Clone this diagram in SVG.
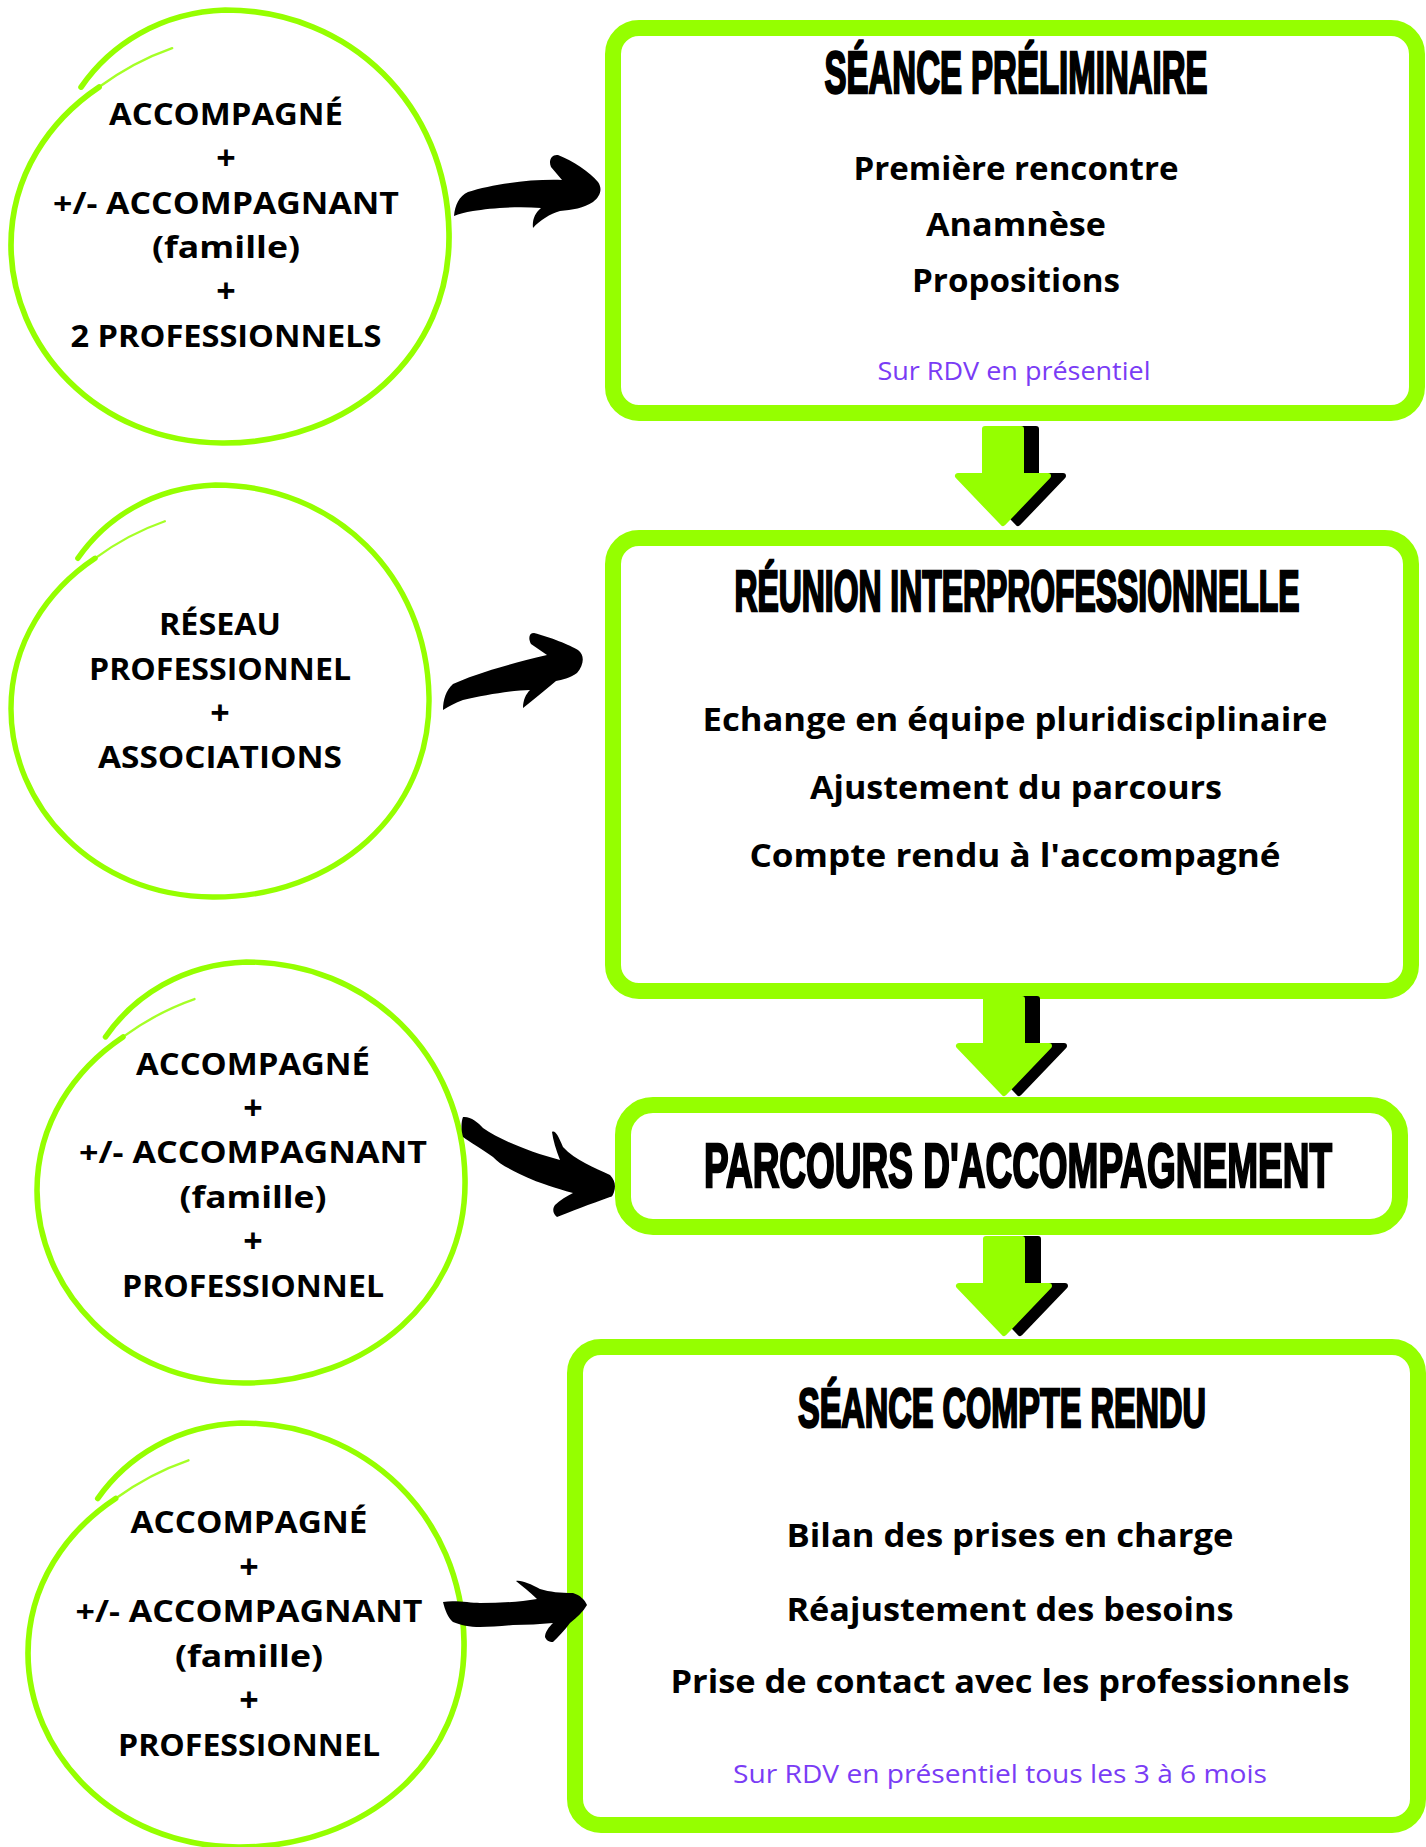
<svg xmlns="http://www.w3.org/2000/svg" xmlns:xlink="http://www.w3.org/1999/xlink" width="1426" height="1847" viewBox="0 0 1426 1847">
<style>
.box{fill:#fff;stroke:#95ff00;stroke-width:16}
.ring{fill:none;stroke:#95ff00;stroke-width:13;stroke-linecap:round}
.ringtail{fill:none;stroke:#95ff00;stroke-width:5.5;stroke-linecap:round;opacity:.85}
.ct{font-family:"Open Sans","Liberation Sans",sans-serif;font-weight:700;font-size:30px;fill:#000;text-anchor:middle}
.plus{font-size:34px}
.title{font-family:"Liberation Sans",Arial,sans-serif;font-weight:700;fill:#000;stroke:#000;stroke-width:2.5;text-anchor:middle}
.bt{font-family:"Open Sans","Liberation Sans",sans-serif;font-weight:700;font-size:32px;fill:#000;text-anchor:middle}
.note{font-family:"Open Sans","Liberation Sans",sans-serif;font-weight:400;font-size:25px;fill:#7a3cf5;text-anchor:middle}
.garrow{fill:#95ff00;stroke:#95ff00;stroke-width:6;stroke-linejoin:round}
.sarrow{fill:#000;stroke:#000;stroke-width:6;stroke-linejoin:round}
.barrow{fill:#000}
</style>
<defs>
<path id="ringpath" d="M160,178 C226,81 340,5 489,0 C774,0 995,219 1000,515 C1005,797 774,1002 482,1000 C192,998 0,774 0,543 C0,381 89,254 201,178"/>
<path id="tailpath" d="M201,178 C260,134 317,106 368,88"/>
<polygon id="down" points="-18,3 18,3 18,50 45,50 0,97 -45,50 -18,50"/>
</defs>
<rect width="1426" height="1847" fill="#fff"/>

<g id="circle-1">
<g transform="translate(11,10) scale(0.438,0.433)"><use href="#ringpath" class="ring"/><use href="#tailpath" class="ringtail"/></g>
<text class="ct" x="226" y="125" textLength="234" lengthAdjust="spacingAndGlyphs">ACCOMPAGNÉ</text>
<text class="ct plus" x="226" y="170">+</text>
<text class="ct" x="226" y="214" textLength="346" lengthAdjust="spacingAndGlyphs">+/- ACCOMPAGNANT</text>
<text class="ct" x="226" y="258" textLength="148" lengthAdjust="spacingAndGlyphs">(famille)</text>
<text class="ct plus" x="226" y="303">+</text>
<text class="ct" x="226" y="347" textLength="311" lengthAdjust="spacingAndGlyphs">2 PROFESSIONNELS</text>
</g>

<g id="circle-2">
<g transform="translate(11,485) scale(0.418,0.412)"><use href="#ringpath" class="ring"/><use href="#tailpath" class="ringtail"/></g>
<text class="ct" x="220" y="635" textLength="122" lengthAdjust="spacingAndGlyphs">RÉSEAU</text>
<text class="ct" x="220" y="680" textLength="262" lengthAdjust="spacingAndGlyphs">PROFESSIONNEL</text>
<text class="ct plus" x="220" y="725">+</text>
<text class="ct" x="220" y="768" textLength="244" lengthAdjust="spacingAndGlyphs">ASSOCIATIONS</text>
</g>

<g id="circle-3">
<g transform="translate(37,962) scale(0.428,0.421)"><use href="#ringpath" class="ring"/><use href="#tailpath" class="ringtail"/></g>
<text class="ct" x="253" y="1075" textLength="234" lengthAdjust="spacingAndGlyphs">ACCOMPAGNÉ</text>
<text class="ct plus" x="253" y="1120">+</text>
<text class="ct" x="253" y="1163" textLength="348" lengthAdjust="spacingAndGlyphs">+/- ACCOMPAGNANT</text>
<text class="ct" x="253" y="1208" textLength="147" lengthAdjust="spacingAndGlyphs">(famille)</text>
<text class="ct plus" x="253" y="1253">+</text>
<text class="ct" x="253" y="1297" textLength="262" lengthAdjust="spacingAndGlyphs">PROFESSIONNEL</text>
</g>

<g id="circle-4">
<g transform="translate(28,1423) scale(0.436,0.424)"><use href="#ringpath" class="ring"/><use href="#tailpath" class="ringtail"/></g>
<text class="ct" x="249" y="1533" textLength="237" lengthAdjust="spacingAndGlyphs">ACCOMPAGNÉ</text>
<text class="ct plus" x="249" y="1579">+</text>
<text class="ct" x="249" y="1622" textLength="347" lengthAdjust="spacingAndGlyphs">+/- ACCOMPAGNANT</text>
<text class="ct" x="249" y="1667" textLength="148" lengthAdjust="spacingAndGlyphs">(famille)</text>
<text class="ct plus" x="249" y="1712">+</text>
<text class="ct" x="249" y="1756" textLength="262" lengthAdjust="spacingAndGlyphs">PROFESSIONNEL</text>
</g>

<g id="box-seance-preliminaire">
<rect class="box" x="613" y="28" width="804" height="385" rx="26"/>
<text class="title" x="1016" y="93" font-size="60" textLength="383" lengthAdjust="spacingAndGlyphs">SÉANCE PRÉLIMINAIRE</text>
<text class="bt" x="1016" y="180" textLength="325" lengthAdjust="spacingAndGlyphs">Première rencontre</text>
<text class="bt" x="1016" y="236" textLength="180" lengthAdjust="spacingAndGlyphs">Anamnèse</text>
<text class="bt" x="1016" y="292" textLength="208" lengthAdjust="spacingAndGlyphs">Propositions</text>
<text class="note" x="1014" y="380" textLength="273" lengthAdjust="spacingAndGlyphs">Sur RDV en présentiel</text>
</g>

<g id="box-reunion">
<rect class="box" x="613" y="538" width="798" height="453" rx="26"/>
<text class="title" x="1017" y="611" font-size="57" textLength="565" lengthAdjust="spacingAndGlyphs">RÉUNION INTERPROFESSIONNELLE</text>
<text class="bt" x="1015" y="731" textLength="625" lengthAdjust="spacingAndGlyphs">Echange en équipe pluridisciplinaire</text>
<text class="bt" x="1016" y="799" textLength="412" lengthAdjust="spacingAndGlyphs">Ajustement du parcours</text>
<text class="bt" x="1015" y="867" textLength="531" lengthAdjust="spacingAndGlyphs">Compte rendu à l'accompagné</text>
</g>

<g id="box-parcours">
<rect class="box" x="623" y="1105" width="777" height="122" rx="30"/>
<text class="title" x="1018" y="1187" font-size="63" textLength="628" lengthAdjust="spacingAndGlyphs">PARCOURS D'ACCOMPAGNEMENT</text>
</g>

<g id="box-seance-compte-rendu">
<rect class="box" x="575" y="1347" width="843" height="478" rx="26"/>
<text class="title" x="1002" y="1427" font-size="56" textLength="408" lengthAdjust="spacingAndGlyphs">SÉANCE COMPTE RENDU</text>
<text class="bt" x="1010" y="1547" textLength="447" lengthAdjust="spacingAndGlyphs">Bilan des prises en charge</text>
<text class="bt" x="1010" y="1621" textLength="447" lengthAdjust="spacingAndGlyphs">Réajustement des besoins</text>
<text class="bt" x="1010" y="1693" textLength="679" lengthAdjust="spacingAndGlyphs">Prise de contact avec les professionnels</text>
<text class="note" x="1000" y="1783" textLength="534" lengthAdjust="spacingAndGlyphs">Sur RDV en présentiel tous les 3 à 6 mois</text>
</g>

<g id="connectors">
<path class="barrow" d="M454,216 C455,205 459,196 468,192 C492,184 530,179 562,180 L551,167 C548,160 552,154 558,155 C573,161 590,172 598,182 C603,189 600,197 593,202 C584,208 572,210 560,211 C550,214 540,220 533,228 C532,220 535,213 541,208 C518,206 490,208 473,211 C465,212 459,214 454,216 Z"/>
<path class="barrow" d="M443,710 C443,700 446,690 453,684 C470,676 500,666 547,655 L531,644 C528,638 529,633 534,633 C550,637 570,645 578,650 C585,655 584,665 577,673 C570,678 562,680 556,681 C545,690 533,700 523,708 C523,700 526,694 530,690 C515,690 485,695 463,700 C455,703 449,706 443,710 Z"/>
<path class="barrow" d="M463,1117 C470,1116 478,1122 483,1128 C500,1140 530,1152 560,1160 C556,1150 553,1140 552,1132 C555,1130 558,1135 563,1147 C575,1160 595,1168 610,1175 C615,1180 616,1186 614,1192 C613,1195 612,1197 610,1197 C590,1204 570,1212 557,1217 C553,1214 552,1209 555,1205 C560,1200 567,1196 573,1193 C555,1188 540,1183 533,1180 C515,1172 500,1165 493,1157 C480,1148 470,1142 463,1137 C461,1130 461,1122 463,1117 Z"/>
<path class="barrow" d="M443,1602 C455,1600 470,1603 480,1603 C500,1603 520,1602 537,1599 C530,1592 522,1586 516,1581 C522,1580 530,1584 540,1589 C550,1592 560,1593 573,1593 C580,1595 585,1600 587,1605 C583,1612 577,1617 570,1623 C565,1630 558,1637 553,1642 C549,1642 546,1640 545,1637 C545,1632 549,1627 553,1623 C540,1624 527,1625 513,1625 C500,1626 490,1627 480,1627 C470,1627 460,1625 453,1622 C448,1618 445,1610 443,1602 Z"/>
<use href="#down" class="sarrow" transform="translate(1018,426)"/>
<use href="#down" class="garrow" transform="translate(1003,426)"/>
<use href="#down" class="sarrow" transform="translate(1019,996)"/>
<use href="#down" class="garrow" transform="translate(1004,996)"/>
<use href="#down" class="sarrow" transform="translate(1020,1236)"/>
<use href="#down" class="garrow" transform="translate(1004,1236)"/>
</g>
</svg>
